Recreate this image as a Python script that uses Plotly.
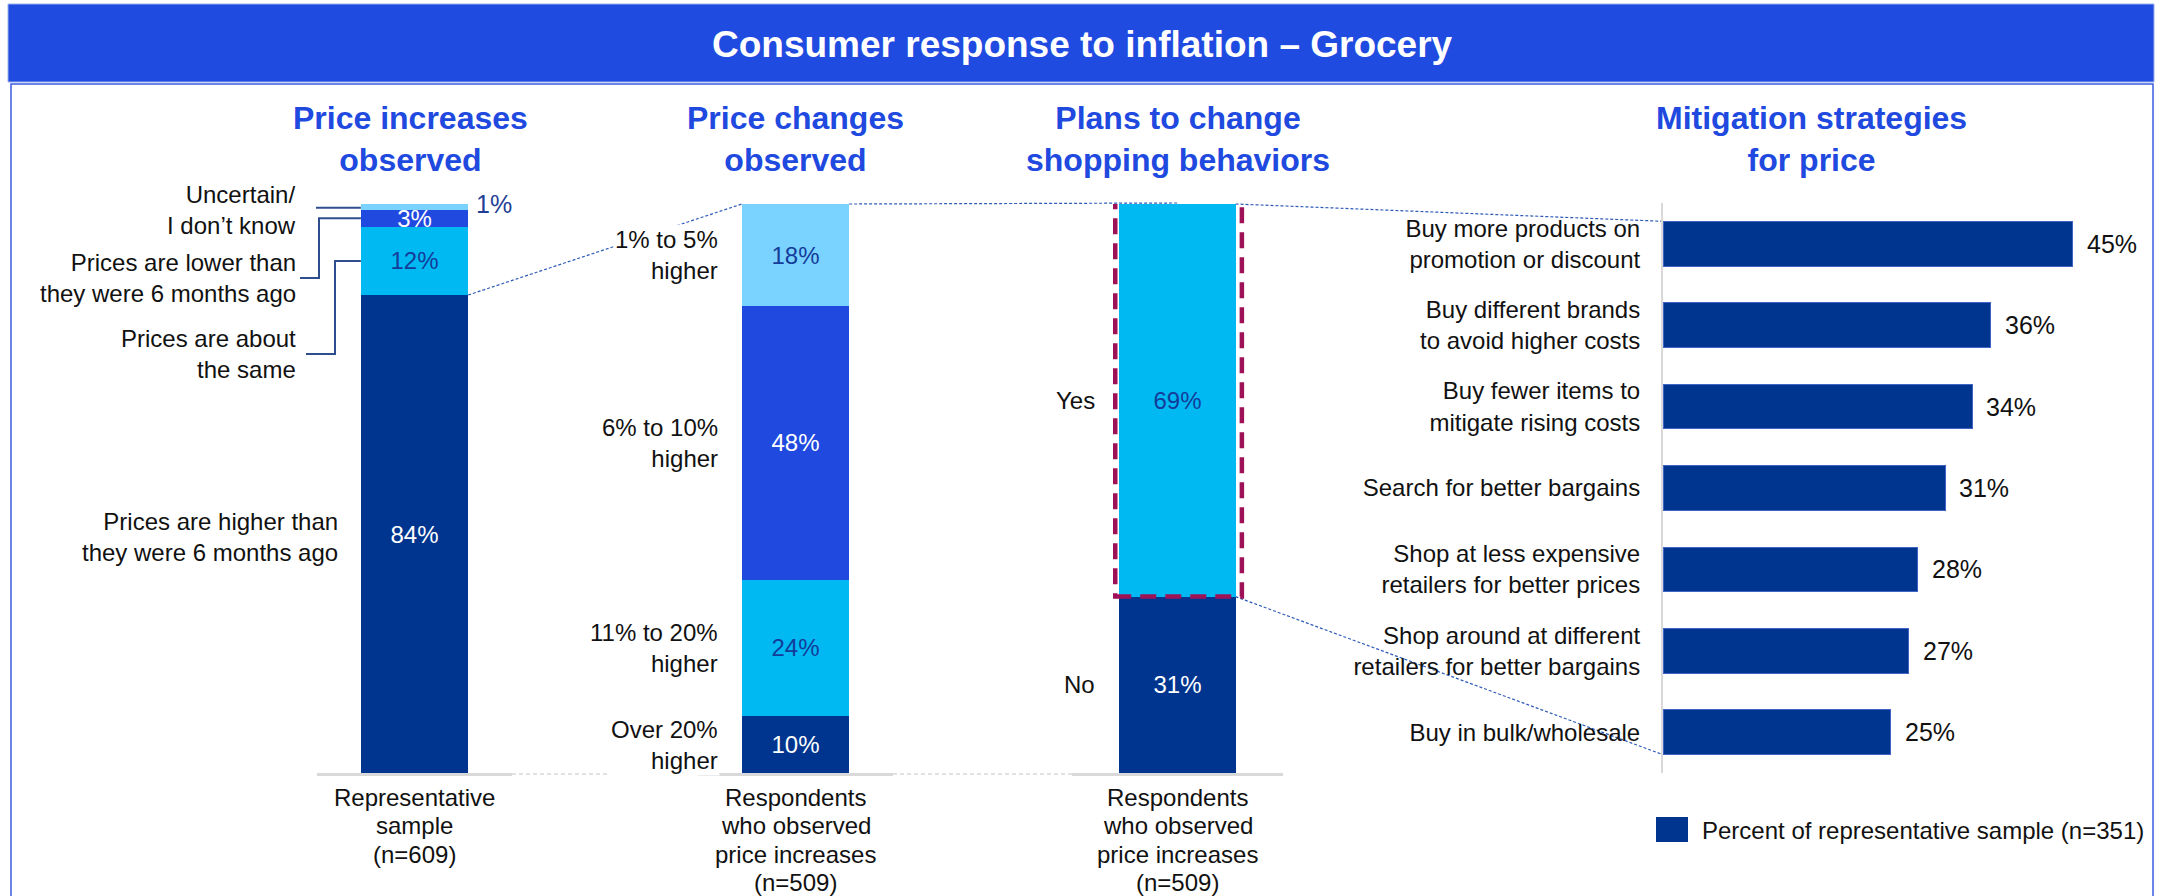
import plotly.graph_objects as go

# ---- data ----
inc_labels = ["Prices are higher than<br>they were 6 months ago", "Prices are about<br>the same",
              "Prices are lower than<br>they were 6 months ago", "Uncertain/<br>I don’t know"]
inc_values = [84, 12, 3, 1]

chg_labels = ["Over 20%<br>higher", "11% to 20%<br>higher", "6% to 10%<br>higher", "1% to 5%<br>higher"]
chg_values = [10, 24, 48, 18]

plan_labels = ["No", "Yes"]
plan_values = [31, 69]

base_labels = ["Representative<br>sample<br>(n=609)",
               "Respondents<br>who observed<br>price increases<br>(n=509)",
               "Respondents<br>who observed<br>price increases<br>(n=509)"]

panel_titles = ["Price increases<br>observed", "Price changes<br>observed",
                "Plans to change<br>shopping behaviors", "Mitigation strategies<br>for price"]

strategies = ["Buy more products on<br>promotion or discount", "Buy different brands<br>to avoid higher costs",
              "Buy fewer items to<br>mitigate rising costs", "Search for better bargains",
              "Shop at less expensive<br>retailers for better prices",
              "Shop around at different<br>retailers for better bargains", "Buy in bulk/wholesale"]
strategy_values = [45, 36, 34, 31, 28, 27, 25]

legend_name = "Percent of representative sample (n=351)"
header = "Consumer response to inflation – Grocery"

# ---- style ----
NAVY, BLUE, CYAN, LIGHT = "#00358F", "#2049E0", "#00B9F2", "#7AD3FF"
DARK_TXT = "#143C9A"
FONT = "Arial, Liberation Sans, sans-serif"
seg_colors = [NAVY, CYAN, BLUE, LIGHT]
txt_colors = ["white", DARK_TXT, "white", DARK_TXT]

W, H = 2158, 896


def fx(x):
    return x / W


def fy(y):
    return 1 - y / H


BASE, TOP = 773, 204          # pixel rows of 0% and 100% on the stacked bars
stack_dom = [(317, 512), (698, 893), (1072, 1283)]
BAR_W = 0.55
HB_X0, HB_X1, HB_MAX = 1663, 2118, 50
HB_TOP, HB_BOT = 203, 773
LINE_GAP = 28.6


def ypix(v):
    return BASE - v / 100 * (BASE - TOP)


def bar_edges(i):
    xl, xr = stack_dom[i]
    c = (xl + xr) / 2
    return c - BAR_W / 2 * (xr - xl), c + BAR_W / 2 * (xr - xl), c


def hb_y(c):
    return HB_TOP + (c + 0.5) * (HB_BOT - HB_TOP) / len(strategies)


def note(text, x, y, xref="paper", yref="paper", xanchor="center", size=24, color="#111111", **kw):
    return dict(text=text, x=x, y=y, xref=xref, yref=yref, xanchor=xanchor, yanchor="middle",
                align=xanchor if xanchor != "center" else "center", showarrow=False,
                font=dict(size=size, color=color, family=FONT), **kw)


fig = go.Figure()

# stacked bars
stacks = [(inc_values, seg_colors, txt_colors), (chg_values, seg_colors, txt_colors),
          (plan_values, seg_colors[:2], txt_colors[:2])]
for i, (vals, cols, tcols) in enumerate(stacks):
    ax = "" if i == 0 else str(i + 1)
    for v, c, tc in zip(vals, cols, tcols):
        fig.add_trace(go.Bar(
            x=[0], y=[v], xaxis="x" + ax, yaxis="y" + ax, width=BAR_W,
            marker=dict(color=c, line=dict(width=0)),
            texttemplate="%{y}%", textposition="inside" if v > 1 else "none",
            insidetextanchor="middle", constraintext="none",
            textfont=dict(color=tc, size=24, family=FONT),
            showlegend=False, hoverinfo="y"))

# horizontal bars
fig.add_trace(go.Bar(
    x=strategy_values, y=list(range(len(strategies))), orientation="h",
    xaxis="x4", yaxis="y4", width=BAR_W, name=legend_name,
    marker=dict(color=NAVY, line=dict(color="#3F63C6", width=1)),
    showlegend=False))

layout_axes = {}
for i, (xl, xr) in enumerate(stack_dom):
    ax = "" if i == 0 else str(i + 1)
    layout_axes["xaxis" + ax] = dict(
        domain=[fx(xl), fx(xr)], range=[-0.5, 0.5], anchor="y" + ax, automargin=False,
        showline=True, linecolor="#D9D9D9", linewidth=3, showgrid=False, zeroline=False,
        showticklabels=False, ticks="", fixedrange=True)
    layout_axes["yaxis" + ax] = dict(
        domain=[fy(BASE), fy(TOP)], range=[0, 100], anchor="x" + ax, automargin=False,
        visible=False, fixedrange=True)

layout_axes["xaxis4"] = dict(domain=[fx(HB_X0), fx(HB_X1)], range=[0, HB_MAX], anchor="y4",
                             automargin=False, visible=False, fixedrange=True)
layout_axes["yaxis4"] = dict(domain=[fy(HB_BOT), fy(HB_TOP)], range=[len(strategies) - 0.5, -0.5],
                             anchor="x4", tickvals=list(range(len(strategies))), ticktext=strategies,
                             automargin=False, showline=True, linecolor="#D9D9D9", linewidth=2,
                             showgrid=False, zeroline=False, ticks="", ticklabelstandoff=16,
                             tickfont=dict(size=24, color="#111111", family=FONT), fixedrange=True)

annotations = []
shapes = []

# header band and frame
shapes.append(dict(type="rect", xref="paper", yref="paper", x0=fx(8), x1=fx(2154), y0=fy(4), y1=fy(82),
                   fillcolor="#1F4BE0", line=dict(color="#9DB0EE", width=1), layer="below"))
shapes.append(dict(type="rect", xref="paper", yref="paper", x0=fx(11), x1=fx(2153), y0=fy(84), y1=fy(910),
                   line=dict(color="#3A5EE0", width=1.5), layer="below"))
annotations.append(note("<b>" + header + "</b>", fx(1082), fy(44), size=37, color="white"))

# panel titles
title_x = [bar_edges(0)[2] - 4, bar_edges(1)[2], bar_edges(2)[2], 1812]
for t, x in zip(panel_titles, title_x):
    annotations.append(note("<b>" + t + "</b>", fx(x), fy(139), size=32, color=BLUE))

# sample labels under each stacked bar (one annotation per line for tight spacing)
for i, lab in enumerate(base_labels):
    for k, line in enumerate(lab.split("<br>")):
        annotations.append(note(line, "x domain" and 0.5, fy(797 + k * LINE_GAP),
                                xref="x" + ("" if i == 0 else str(i + 1)) + " domain"))

# bar 1 labels with elbow connectors
cum = [sum(inc_values[:k]) + inc_values[k] / 2 for k in range(len(inc_values))]
inc_label_pos = [(340, 537), (298, 354), (298, 278), (298, 210)]
for lab, (x, y) in zip(inc_labels, inc_label_pos):
    annotations.append(note(lab, fx(x), fy(y), xanchor="right"))
bl1 = bar_edges(0)[0]
elbows = [(1, 306, 335, 354), (2, 300, 319, 278)]
for k, xa, xb, yl in elbows:
    ys = ypix(cum[k])
    shapes.append(dict(type="path", xref="paper", yref="paper",
                       path=f"M {fx(xa)},{fy(yl)} L {fx(xb)},{fy(yl)} L {fx(xb)},{fy(ys)} L {fx(bl1)},{fy(ys)}",
                       line=dict(color="#2F4E8E", width=2)))
shapes.append(dict(type="line", xref="paper", yref="paper", x0=fx(316), x1=fx(bl1),
                   y0=fy(ypix(cum[3]) + 1), y1=fy(ypix(cum[3]) + 1), line=dict(color="#2F4E8E", width=2)))
annotations.append(note(f"{inc_values[3]}%", fx(bar_edges(0)[1] + 6), cum[3] + 0.5, yref="y",
                        xanchor="left", size=25, color="#1F3F96"))

# bar 2 and 3 segment labels
for ax, labs, vals, xr in [("y2", chg_labels, chg_values, 720), ("y3", plan_labels, plan_values, 1097)]:
    for k, lab in enumerate(labs):
        annotations.append(note(lab, fx(xr), sum(vals[:k]) + vals[k] / 2, yref=ax, xanchor="right",
                                bgcolor="white" if ax == "y2" else None))

# value labels on horizontal bars
for k, v in enumerate(strategy_values):
    annotations.append(note(f"{v}%", v, k, xref="x4", yref="y4", xanchor="left", size=25, xshift=12))

# dashed leader lines
lead = dict(color="#2F5BB8", width=1.2, dash="3px,2px")
b1l, b1r, b1c = bar_edges(0)
b2l, b2r, b2c = bar_edges(1)
b3l, b3r, b3c = bar_edges(2)
for (x0, y0, x1, y1) in [(b1r, ypix(inc_values[0]), b2l, TOP), (b2r, TOP, b3c, TOP - 1),
                         (b3r, TOP, HB_X0, hb_y(-BAR_W / 2)),
                         (b3r, ypix(plan_values[0]), HB_X0, hb_y(len(strategies) - 1 + BAR_W / 2))]:
    shapes.append(dict(type="line", xref="paper", yref="paper", x0=fx(x0), y0=fy(y0), x1=fx(x1), y1=fy(y1),
                       line=lead, layer="below"))

# highlight box around "Yes"
shapes.append(dict(type="rect", xref="x3", yref="y3", x0=-BAR_W / 2 - 0.02, x1=BAR_W / 2 + 0.03,
                   y0=plan_values[0], y1=101.3, line=dict(color="#9E1157", width=4.5, dash="16px,9px")))

# gray dashed links between baselines
for xa, xb in [(stack_dom[0][1], stack_dom[1][0]), (stack_dom[1][1], stack_dom[2][0])]:
    shapes.append(dict(type="line", xref="paper", yref="paper", x0=fx(xa), x1=fx(xb), y0=fy(BASE + 1),
                       y1=fy(BASE + 1), line=dict(color="#D9D9D9", width=1.5, dash="4px,3px")))

# legend
shapes.append(dict(type="rect", xref="paper", yref="paper", x0=fx(1656), x1=fx(1688), y0=fy(842), y1=fy(817),
                   fillcolor=NAVY, line=dict(width=0)))
annotations.append(note(legend_name, fx(1700), fy(830), xanchor="left"))

fig.update_layout(
    width=W, height=H, margin=dict(l=0, r=0, t=0, b=0, autoexpand=False),
    paper_bgcolor="white", plot_bgcolor="white", barmode="stack",
    font=dict(family=FONT, size=24, color="#111111"),
    annotations=annotations, shapes=shapes, **layout_axes)

fig.write_html("out.html", config={"displayModeBar": False},
               post_script="document.body.style.margin='0px';")
